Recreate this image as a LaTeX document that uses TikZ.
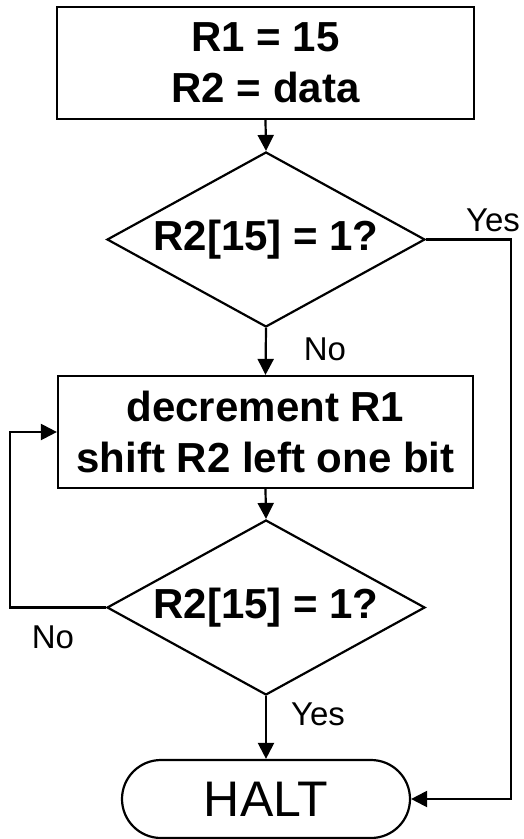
\documentclass[tikz,border=0pt]{standalone}
\usepackage{fontspec}
\setmainfont{Liberation Sans}
\usetikzlibrary{shapes.geometric,shapes.misc,arrows.meta}
\begin{document}
\begin{tikzpicture}[x=1pt,y=-1pt,
  every path/.style={line width=2.2pt},
  boxnode/.style={draw,rectangle,inner sep=0pt,align=center,font=\fontsize{42}{51}\selectfont\bfseries},
  decision/.style={draw,diamond,inner sep=0pt,aspect=1.82,minimum width=318pt,minimum height=175pt,font=\fontsize{42}{50}\selectfont\bfseries},
  terminal/.style={draw,rounded rectangle,inner sep=0pt,minimum width=288pt,minimum height=78pt,font=\fontsize{50}{60}\selectfont},
  lbl/.style={font=\fontsize{33}{40}\selectfont,inner sep=0pt},
  arr/.style={-{Triangle[length=16pt,width=16pt]}}]
\useasboundingbox (0,0) rectangle (524,839);
\node[boxnode,minimum width=417pt,minimum height=112pt] (b1) at (265.5,63) {R1 = 15\\R2 = data};
\node[decision] (d1) at (266,239.5) {R2[15] = 1?};
\node[boxnode,minimum width=415pt,minimum height=112pt] (b2) at (265.5,432) {decrement R1\\shift R2 left one bit};
\node[decision] (d2) at (266,607.5) {R2[15] = 1?};
\node[terminal] (halt) at (266,799) {HALT};
\coordinate (rr) at (511,239.5);
\coordinate (ll) at (10,607.5);
\draw[arr] (b1.south) -- (d1.north);
\draw[arr] (d1.south) -- (b2.north);
\draw[arr] (b2.south) -- (d2.north);
\draw[arr] (d2.south) -- (halt.north);
\draw[arr] (d1.east) -- (rr) |- (halt.east);
\draw[arr] (d2.west) -- (ll) |- (b2.west);
\node[lbl] (yes1) at (493,220) {Yes};
\node[lbl] (no1) at (325,349) {No};
\node[lbl] (no2) at (53,637) {No};
\node[lbl] (yes2) at (318,714) {Yes};
\end{tikzpicture}
\end{document}
